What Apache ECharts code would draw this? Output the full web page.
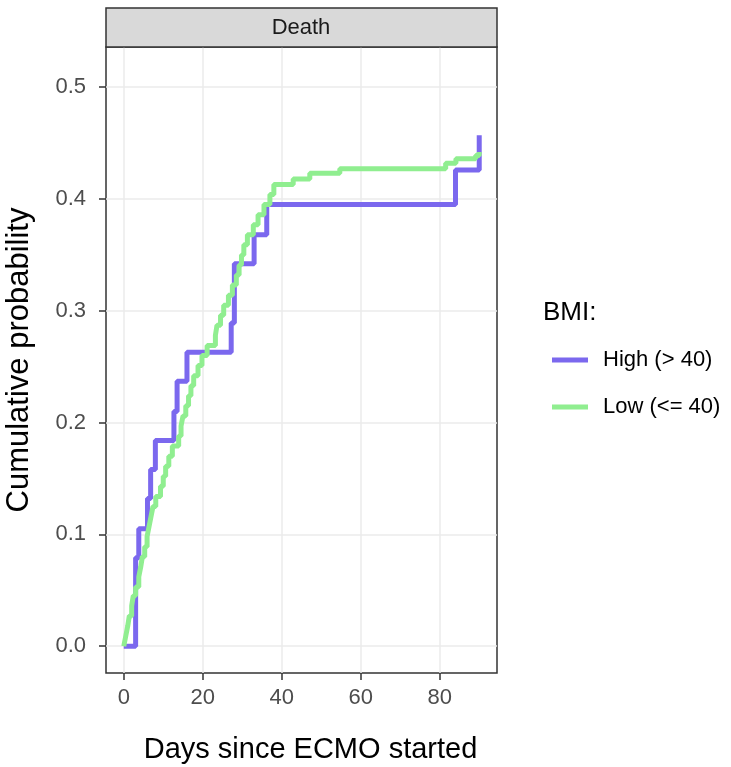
<!DOCTYPE html>
<html>
<head>
<meta charset="utf-8">
<script src="https://cdn.jsdelivr.net/npm/echarts@6/dist/echarts.min.js"></script>
<style>
html, body { margin: 0; padding: 0; background: #fff; }
#chart { width: 731px; height: 767px; }
</style>
</head>
<body>
<div id="chart"></div>
<script>
// step curves (day of event, cumulative probability after it)
const highDays = [0, 3.0, 3.8, 6.0, 6.8, 8.0, 12.7, 13.5, 16.0, 27.2, 28.0, 33.0, 36.2, 84.0, 90.0]
const highProb = [0, 0.079, 0.105, 0.132, 0.158, 0.184, 0.210, 0.237, 0.263, 0.289, 0.342, 0.368, 0.395, 0.426, 0.457]

const lowDays = [0, 0.5, 1.0, 1.4, 2.0, 2.4, 3.0, 3.8, 4.3, 4.7, 5.3, 5.9, 6.4, 6.9, 7.4, 8.1, 9.3, 10.0, 10.6, 11.4,
  12.3, 13.9, 14.5, 15.0, 15.7, 16.4, 17.0, 17.7, 18.8, 19.8, 21.1, 23.2, 23.6, 24.5, 25.3, 26.5, 27.5, 28.5, 29.2, 29.8,
  30.4, 31.3, 32.8, 34.0, 35.5, 37.0, 38.0, 42.9, 47.1, 54.7, 81.5, 84.1, 89.1, 90.0]
const lowProb = [0, 0.009, 0.018, 0.027, 0.036, 0.045, 0.053, 0.062, 0.071, 0.080, 0.089, 0.098, 0.107, 0.116, 0.125, 0.134, 0.143, 0.152, 0.161, 0.170,
  0.179, 0.188, 0.197, 0.206, 0.215, 0.224, 0.233, 0.242, 0.251, 0.260, 0.269, 0.278, 0.287, 0.296, 0.305, 0.314, 0.323, 0.332, 0.341, 0.350,
  0.359, 0.368, 0.377, 0.386, 0.395, 0.404, 0.413, 0.418, 0.423, 0.427, 0.432, 0.436, 0.439, 0.442]

const xTicks = [0, 20, 40, 60, 80]
const yTicks = [0, 0.1, 0.2, 0.3, 0.4, 0.5]
const groupNames = ['High (> 40)', 'Low (<= 40)']

const font = '"Liberation Sans", Arial, sans-serif'

const toPairs = (xs, ys) => xs.map((x, i) => [x, ys[i]])

const chart = echarts.init(document.getElementById('chart'), null, { renderer: 'canvas' })

const option = {
  animation: false,
  textStyle: { fontFamily: font },
  grid: {
    left: 106, right: 234, top: 47, bottom: 94,
    outerBoundsMode: 'none',
    containLabel: false,
    show: true, borderColor: '#333333', borderWidth: 1.5, backgroundColor: '#fff'
  },
  graphic: [
    {
      type: 'rect',
      shape: { x: 106, y: 8, width: 391, height: 39 },
      style: { fill: '#d9d9d9', stroke: '#333333', lineWidth: 1.5 },
      z: 10
    },
    {
      type: 'text',
      x: 301, y: 28,
      style: { text: 'Death', font: '22px ' + font, fill: '#1a1a1a', textAlign: 'center', textVerticalAlign: 'middle' },
      z: 11
    },
    {
      type: 'text',
      x: 543, y: 313,
      style: { text: 'BMI:', font: '26px ' + font, fill: '#000', textAlign: 'left', textVerticalAlign: 'middle' },
      z: 11
    }
  ],
  legend: {
    data: groupNames,
    orient: 'vertical',
    left: 547,
    top: 344,
    itemWidth: 36,
    itemHeight: 5,
    itemGap: 25,
    icon: 'rect',
    textStyle: { fontSize: 22, color: '#000', fontFamily: font, padding: [0, 0, 0, 10] }
  },
  xAxis: {
    type: 'value',
    min: -4.5,
    max: 94.5,
    name: 'Days since ECMO started',
    nameLocation: 'middle',
    nameGap: 62,
    nameTextStyle: { fontSize: 29, color: '#000', fontFamily: font, padding: [0, 0, 0, 18] },
    axisLine: { show: false, onZero: false },
    axisTick: { show: true, length: 7, lineStyle: { color: '#333333', width: 1.5 }, customValues: xTicks },
    axisLabel: { fontSize: 22, color: '#4d4d4d', margin: 14, customValues: xTicks },
    splitLine: { show: true, lineStyle: { color: '#ebebeb', width: 1.5 } }
  },
  yAxis: {
    type: 'value',
    min: -0.024,
    max: 0.536,
    name: 'Cumulative probability',
    nameLocation: 'middle',
    nameGap: 71,
    nameTextStyle: { fontSize: 31, color: '#000', fontFamily: font },
    axisLine: { show: false, onZero: false },
    axisTick: { show: true, length: 7, lineStyle: { color: '#333333', width: 1.5 }, customValues: yTicks },
    axisLabel: { fontSize: 22, color: '#4d4d4d', margin: 20, customValues: yTicks, formatter: v => v.toFixed(1) },
    splitLine: { show: true, lineStyle: { color: '#ebebeb', width: 1.5 } }
  },
  series: [
    {
      name: groupNames[0],
      type: 'line',
      step: 'end',
      showSymbol: false,
      color: '#7b68ee',
      lineStyle: { width: 5, color: '#7b68ee' },
      data: toPairs(highDays, highProb)
    },
    {
      name: groupNames[1],
      type: 'line',
      step: 'end',
      showSymbol: false,
      color: '#90ee90',
      lineStyle: { width: 5, color: '#90ee90' },
      data: toPairs(lowDays, lowProb)
    }
  ]
}

chart.setOption(option)
</script>
</body>
</html>
